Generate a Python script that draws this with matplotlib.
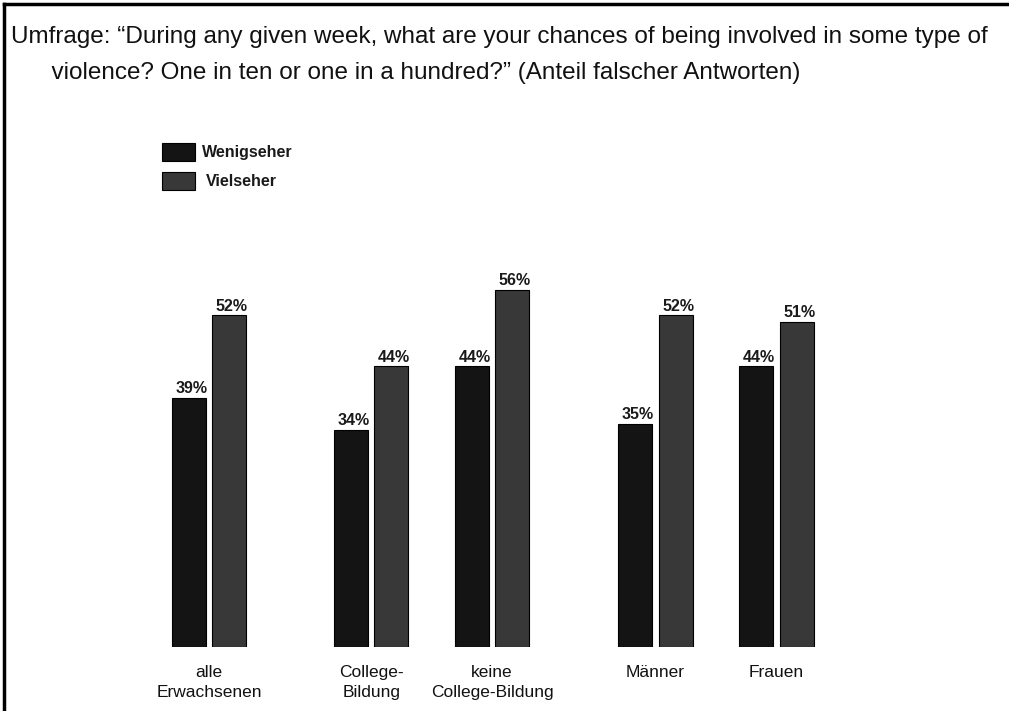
import matplotlib
matplotlib.use('Agg')
import matplotlib.pyplot as plt
from matplotlib.patches import Rectangle
from matplotlib.lines import Line2D
import numpy as np

plt.rcParams['font.family'] = ['Liberation Sans', 'DejaVu Sans']

# data
categories = ['alle\nErwachsenen', 'College-\nBildung', 'keine\nCollege-Bildung', 'Männer', 'Frauen']
group_pos = [0, 1.34, 2.34, 3.69, 4.69]
wenigseher = [39, 34, 44, 35, 44]
vielseher = [52, 44, 56, 52, 51]
series_names = ['Wenigseher', 'Vielseher']
colors = ['#141414', '#383838']
title = ('Umfrage: \u201cDuring any given week, what are your chances of being involved in some type of\n'
         '      violence? One in ten or one in a hundred?\u201d (Anteil falscher Antworten)')

W, H = 1009, 711
fig = plt.figure(figsize=(W / 100, H / 100), dpi=100)
ax = fig.add_axes([0, (H - 647) / H, 1, 647 / H])
ax.set_xlim(-209 / 121, (W - 209) / 121)
ax.set_ylim(0, 647 / 6.375)
ax.axis('off')

x = np.asarray(group_pos)
bw, off = 0.28, 0.167
for vals, dx, c in [(wenigseher, -off, colors[0]), (vielseher, off, colors[1])]:
    bars = ax.bar(x + dx, vals, bw, color=c, edgecolor='black', linewidth=0.8)
    for b, v in zip(bars, vals):
        ax.text(b.get_x() + b.get_width() / 2 + 0.02, v + 0.3, f'{v}%', ha='center', va='bottom',
                fontsize=11.5, fontweight='bold', color='#1a1a1a')

for xi, lab in zip(x, categories):
    ax.text(xi, -2.9, lab, ha='center', va='top', fontsize=12.5, linespacing=1.35, clip_on=False,
            color='#111111')

# title
fig.text(11 / W, 1 - 26 / H, title, ha='left', va='top', fontsize=17.5, linespacing=1.8, color='#111111')

# legend
for i, (name, c) in enumerate(zip(series_names, colors)):
    y0 = 143 + i * 29
    fig.add_artist(Rectangle((162 / W, 1 - (y0 + 18) / H), 33 / W, 18 / H, transform=fig.transFigure,
                             facecolor=c, edgecolor='black', linewidth=0.8))
    fig.text((202 + 4 * i) / W, 1 - (y0 + 9) / H, name, ha='left', va='center', fontsize=11.5,
             fontweight='bold', color='#1a1a1a')

# frame
fig.add_artist(Line2D([4 / W, 1], [1 - 4 / H, 1 - 4 / H], transform=fig.transFigure, color='black', linewidth=2.5))
fig.add_artist(Line2D([4 / W, 4 / W], [0, 1 - 4 / H], transform=fig.transFigure, color='black', linewidth=2.5))

fig.savefig('out.png', dpi=100)
